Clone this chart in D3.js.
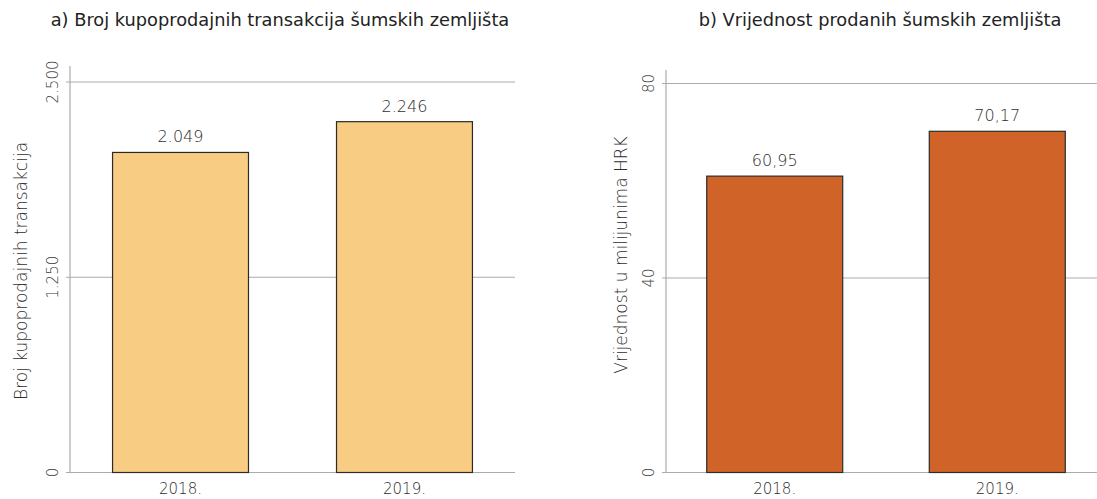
<!DOCTYPE html>
<html><head><meta charset="utf-8">
<script src="https://cdn.jsdelivr.net/npm/d3@7"></script>
<style>
body{margin:0;background:#fff;}
svg{display:block;font-family:"DejaVu Sans","Open Sans",sans-serif;}
</style></head>
<body>
<svg id="c" width="1097" height="499"></svg>
<script>
const categories = ["2018.", "2019."];
const transakcije = [2049, 2246];
const transakcijeLabels = ["2.049", "2.246"];
const vrijednost = [60.95, 70.17];
const vrijednostLabels = ["60,95", "70,17"];
const ticksA = [0, 1250, 2500];
const tickLabelsA = ["0", "1.250", "2.500"];
const ticksB = [0, 40, 80];
const tickLabelsB = ["0", "40", "80"];

const svg = d3.select("#c");

function panel(cfg){
  const g = svg.append("g");
  const y = d3.scaleLinear().domain([0, cfg.ymax]).range([cfg.y0, cfg.ytop]);
  const x = d3.scaleBand().domain(categories).range([cfg.x0, cfg.x1]).paddingInner(cfg.pi).paddingOuter(cfg.po);
  g.selectAll("line.grid").data(cfg.ticks).join("line")
    .attr("x1", cfg.x0 - 4).attr("x2", cfg.gx1)
    .attr("y1", d => y(d)).attr("y2", d => y(d))
    .attr("stroke", "#ababab").attr("stroke-width", 1.2);
  g.append("line").attr("x1", cfg.x0).attr("x2", cfg.x0)
    .attr("y1", cfg.axisTop).attr("y2", y(0))
    .attr("stroke", "#ababab").attr("stroke-width", 1.2);
  g.selectAll("text.tick").data(cfg.ticks).join("text")
    .attr("transform", d => `translate(${cfg.x0 - 12},${y(d)}) rotate(-90)`)
    .attr("text-anchor", "middle")
    .attr("font-size", 15).attr("font-weight", 200).attr("fill", "#3a3a3a")
    .text((d, i) => cfg.tickLabels[i]);
  g.selectAll("rect").data(cfg.values).join("rect")
    .attr("x", (d, i) => x(categories[i]))
    .attr("width", x.bandwidth())
    .attr("y", d => y(d))
    .attr("height", d => y(0) - y(d))
    .attr("fill", cfg.color).attr("stroke", "#2b2b2b").attr("stroke-width", 1.2);
  g.selectAll("text.val").data(cfg.values).join("text")
    .attr("x", (d, i) => x(categories[i]) + x.bandwidth()/2)
    .attr("y", d => y(d) - 10)
    .attr("text-anchor", "middle")
    .attr("font-size", 16).attr("font-weight", 200).attr("fill", "#2e2e2e")
    .text((d, i) => cfg.valueLabels[i]);
  g.selectAll("text.cat").data(categories).join("text")
    .attr("x", d => x(d) + x.bandwidth()/2)
    .attr("y", y(0) + 21)
    .attr("text-anchor", "middle")
    .attr("font-size", 15).attr("font-weight", 200).attr("fill", "#2e2e2e")
    .text(d => d);
  g.append("text")
    .attr("transform", `translate(${cfg.titleX},${cfg.titleY}) rotate(-90)`)
    .attr("text-anchor", "middle")
    .attr("font-size", 17).attr("font-weight", 200).attr("fill", "#2e2e2e")
    .text(cfg.yTitle);
  g.append("text")
    .attr("x", cfg.headX).attr("y", 26)
    .attr("text-anchor", "middle")
    .attr("font-size", 17.8).attr("font-weight", 400).attr("fill", "#222")
    .text(cfg.head);
}

panel({
  values: transakcije, valueLabels: transakcijeLabels,
  ticks: ticksA, tickLabels: tickLabelsA, ymax: 2500,
  y0: 472.5, ytop: 82, axisTop: 66,
  x0: 70, x1: 515, gx1: 515, pi: 0.393, po: 0.19,
  color: "#F8CC83",
  yTitle: "Broj kupoprodajnih transakcija", titleX: 27, titleY: 271,
  head: "a) Broj kupoprodajnih transakcija šumskih zemljišta", headX: 280
});
panel({
  values: vrijednost, valueLabels: vrijednostLabels,
  ticks: ticksB, tickLabels: tickLabelsB, ymax: 80,
  y0: 472.5, ytop: 83.5, axisTop: 70,
  x0: 666, x1: 1106, gx1: 1097, pi: 0.389, po: 0.183,
  color: "#D06428",
  yTitle: "Vrijednost u milijunima HRK", titleX: 627, titleY: 255,
  head: "b) Vrijednost prodanih šumskih zemljišta", headX: 880
});
</script>
</body></html>
